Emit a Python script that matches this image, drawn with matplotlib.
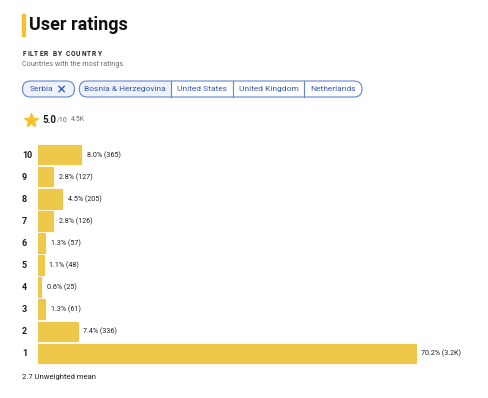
import matplotlib
matplotlib.use("Agg")
import matplotlib.pyplot as plt
from matplotlib.patches import FancyBboxPatch, Rectangle

plt.rcParams["font.family"] = ["Roboto", "DejaVu Sans"]

# data
ratings = [10, 9, 8, 7, 6, 5, 4, 3, 2, 1]
shares = [8.0, 2.8, 4.5, 2.8, 1.3, 1.1, 0.6, 1.3, 7.4, 70.2]
counts = ["365", "127", "205", "126", "57", "48", "25", "61", "336", "3.2K"]
selected_country = "Serbia"
countries = ["Bosnia & Herzegovina", "United States", "United Kingdom", "Netherlands"]
score = "5.0"
total_votes = "4.5K"
mean_rating = 2.7

BAR = "#EEC84B"
STAR = "#F2C230"
BLUE = "#3559B8"
EDGE = "#6483D3"
FILL = "#EEF2FA"
INK = "#1F1F1F"
GREY = "#6E6E6E"

W, H = 488, 398
fig = plt.figure(figsize=(W / 100, H / 100), dpi=100)


def rect_px(x, y, w, h):
    return [x / W, 1 - (y + h) / H, w / W, h / H]


# bar chart: 5.38 px per percent
ax = fig.add_axes(rect_px(38, 144, 440, 221))
ax.barh(ratings, shares, height=0.84, color=BAR, edgecolor=BAR,
        linewidth=1.6, joinstyle="round")
ax.set_xlim(0, 440 / 5.38)
ax.set_ylim(0.5, 10.5)
ax.axis("off")
for r, s, c in zip(ratings, shares, counts):
    ax.annotate(f"{s:.1f}% ({c})", (s, r), xytext=(4, 0), textcoords="offset points",
                va="center", ha="left", fontsize=5.1, color=INK)
    ax.text(-16 / 440, r, str(r), transform=ax.get_yaxis_transform(),
            va="center", ha="left", fontsize=6.5, fontweight="bold", color=INK)

# page furniture in pixel coordinates
ov = fig.add_axes([0, 0, 1, 1])
ov.set_xlim(0, W)
ov.set_ylim(H, 0)
ov.axis("off")

ov.add_patch(Rectangle((22, 14), 2.5, 22, color=STAR))
ov.text(29, 25.5, "User ratings", fontsize=13, fontweight="bold", va="center", color="#111111")

renderer = fig.canvas.get_renderer()
x = 22.5
for ch in "FILTER BY COUNTRY":
    if ch == " ":
        x += 3.0
        continue
    t = ov.text(x, 54, ch, fontsize=4.8, fontweight="bold", va="center", ha="left", color="#222222")
    x += t.get_window_extent(renderer).width + 1.0
ov.text(22.5, 65, "Countries with the most ratings", fontsize=5.2, va="center", color=GREY)

# country chips
ov.add_patch(FancyBboxPatch((22.5, 81), 52, 16, boxstyle="round,pad=0,rounding_size=8",
                            fc=FILL, ec=EDGE, lw=0.8))
ov.text(29.7, 89, selected_country, fontsize=6.0, va="center", color=BLUE)
ov.plot([58.8, 64.4], [86.2, 91.8], color=BLUE, lw=1.0, solid_capstyle="round")
ov.plot([58.8, 64.4], [91.8, 86.2], color=BLUE, lw=1.0, solid_capstyle="round")

edges = [79.3, 171.3, 233.3, 304.3, 362]
ov.add_patch(FancyBboxPatch((edges[0], 81), edges[1] - edges[0], 16,
                            boxstyle="round,pad=0,rounding_size=8", fc=FILL, ec="none"))
ov.add_patch(Rectangle((edges[0] + 20, 81), edges[1] - edges[0] - 20, 16, fc=FILL, ec="none"))
ov.add_patch(FancyBboxPatch((edges[0], 81), edges[-1] - edges[0], 16,
                            boxstyle="round,pad=0,rounding_size=8", fc="none", ec=EDGE, lw=0.8))
for e in edges[1:-1]:
    ov.plot([e, e], [81, 97], color=EDGE, lw=0.8)
for name, a, b in zip(countries, edges[:-1], edges[1:]):
    ov.text((a + b) / 2, 89, name, fontsize=6.0, va="center", ha="center", color=BLUE)

# score line
ov.plot(30.8, 119.5, marker="*", ms=10.5, color=STAR, mec=STAR)
t = ov.text(42.5, 120, score, fontsize=7, fontweight="bold", va="center", color=INK)
x = 42.5 + t.get_window_extent(renderer).width + 0.3
ov.text(x, 119.5, "/10", fontsize=5, va="center", color=GREY)
ov.text(71, 119.5, total_votes, fontsize=5, va="center", color=GREY)

ov.text(22.5, 377, f"{mean_rating} Unweighted mean", fontsize=5.5, va="center", color=INK)

fig.savefig("out.png", dpi=100)
